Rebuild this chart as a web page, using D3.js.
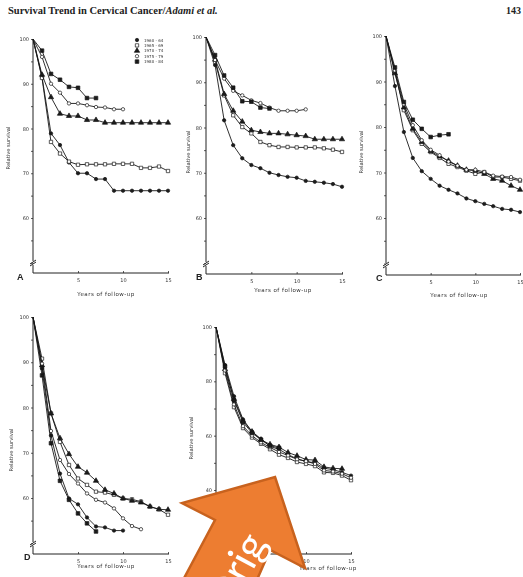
<!DOCTYPE html>
<html>
<head>
<meta charset="utf-8">
<script src="https://cdn.jsdelivr.net/npm/d3@7"></script>
<style>
    body { margin: 0; background: #fff; }
    svg { display: block; }
    .tick text { font-family: "DejaVu Sans", sans-serif; font-size: 5px; fill: #333; }
    .tick line { stroke: #333; stroke-width: 0.8; }
    .axis-line { stroke: #222; stroke-width: 1; fill: none; }
    .axis-title { font-family: "DejaVu Sans", sans-serif; font-size: 5.2px; fill: #333; }
    .panel-letter { font-family: "Liberation Sans", sans-serif; font-size: 9px; font-weight: bold; fill: #222; }
    .legend-text { font-family: "DejaVu Sans", sans-serif; font-size: 4px; fill: #333; }
</style>
</head>
<body>
<script>
'use strict';

// period labels (legend)
var periods = ['1960 - 64', '1965 - 69', '1970 - 74', '1975 - 79', '1980 - 84'];

// relative survival (%) by year of follow-up, starting at year 0
// panel A
var A_1960 = [100, 91.5, 78.9, 76.3, 72.4, 70, 70, 68.7, 68.7, 66.1, 66.1, 66.1, 66.1, 66.1, 66.1, 66.1];
var A_1965 = [100, 91.3, 77, 74.4, 72.6, 71.9, 72, 72, 72, 72.1, 72.1, 72.1, 71.2, 71.2, 71.5, 70.5];
var A_1970 = [100, 92, 87, 83.3, 82.8, 82.8, 81.9, 81.9, 81.3, 81.3, 81.3, 81.3, 81.3, 81.3, 81.3, 81.3];
var A_1975 = [100, 96, 90, 88, 85.6, 85.6, 85.2, 84.8, 84.7, 84.3, 84.3];
var A_1980 = [100, 97.4, 92.2, 90.9, 89.3, 89.1, 86.8, 86.8];
// panel B
var B_1960 = [100, 93.8, 81.6, 76.1, 73.2, 71.7, 71, 70, 69.5, 69.1, 68.9, 68.2, 68, 67.8, 67.5, 66.9];
var B_1965 = [100, 94.5, 87.1, 82.7, 80.1, 78.7, 76.8, 76.1, 75.7, 75.7, 75.6, 75.6, 75.6, 75.4, 75.1, 74.6];
var B_1970 = [100, 95, 87.4, 83.7, 81.3, 79.4, 79, 78.7, 78.7, 78.5, 78.3, 78.1, 77.4, 77.4, 77.4, 77.4];
var B_1975 = [100, 94.9, 90.8, 88.1, 87.1, 86, 85.4, 84.4, 83.7, 83.7, 83.7, 84];
var B_1980 = [100, 96, 91.5, 88.8, 85.8, 85.7, 84.4, 84.2];
// panel C
var C_1960 = [100, 89, 78.9, 73.2, 70.3, 68.6, 67.1, 66.2, 65.4, 64.3, 63.7, 63.1, 62.6, 62, 61.8, 61.3];
var C_1965 = [100, 92.1, 83.7, 79.3, 76.3, 74.5, 73.2, 71.9, 71.2, 70.4, 69.7, 70.1, 69, 69, 68.6, 68.2];
var C_1970 = [100, 91.8, 84.3, 79.6, 76.7, 74.7, 73.5, 72.6, 71.5, 70.6, 70.4, 69.7, 68.6, 68.2, 67.1, 66.2];
var C_1975 = [100, 92.4, 85, 80.4, 77.1, 75, 73.8, 72.4, 71.5, 70.6, 70.6, 70.1, 69.3, 69.1, 69, 68.4];
var C_1980 = [100, 93.1, 85.5, 81.6, 79.6, 77.8, 78.2, 78.4];
// panel D
var D_1960 = [100, 88.6, 73.8, 65.4, 59.9, 58.6, 55.7, 53.7, 53.5, 52.8, 52.8];
var D_1965 = [100, 90.8, 78.7, 72.4, 67.3, 64.3, 62.9, 61.4, 61.2, 60.7, 59.9, 59.7, 59.2, 58.1, 57.5, 56.3];
var D_1970 = [100, 89.3, 78.7, 73.2, 69.7, 66.9, 65.6, 63.8, 61.8, 61, 59.9, 59.4, 59, 58.1, 57.5, 57.4];
var D_1975 = [100, 89.7, 74.8, 68.4, 65.3, 63.2, 61, 59.6, 59, 57.7, 55.5, 53.8, 53.1];
var D_1980 = [100, 87.1, 72.1, 63.8, 59.6, 56.6, 54.4, 52.6];
// panel E
var E_1960 = [100, 86, 74.5, 66, 61.5, 58.8, 56, 55, 53, 51.5, 50.5, 50, 48, 47.5, 46.5, 45.3];
var E_1965 = [100, 83, 70.5, 62.8, 59.3, 57, 55, 53, 51.8, 50.3, 49.6, 48.8, 46.5, 46.3, 45.3, 43.6];
var E_1970 = [100, 84.5, 73.5, 65.5, 61.5, 58.5, 56.8, 55.8, 53.8, 52.6, 51.2, 51, 48.5, 48, 47.8];
var E_1975 = [100, 84, 71.5, 63.5, 60, 57.5, 55.7, 54, 52.7, 51.3, 50.6, 49.6, 47.2, 46.8, 46, 44.5];
var E_1980 = [100, 85.5, 73, 65, 61, 58.5, 56.3, 55.5];

// axis labels
var xTicks = [5, 10, 15];
var yLabelsAD = [100, 90, 80, 70, 60];
var yLabelsE = [100, 80, 60, 40];

var width = 523, height = 577;

// panel layout (pixel positions of the scanned page)
var panels = [
    {letter: 'A', series: [A_1960, A_1965, A_1970, A_1975, A_1980], left: 33, right: 168,
        top: 39, refVal: 60, refPos: 218, bottom: 273, labels: yLabelsAD, minor: 5, low: 50,
        ytitle: [10, 148], xtitle: [106, 296], letterPos: [17, 280], legend: true},
    {letter: 'B', series: [B_1960, B_1965, B_1970, B_1975, B_1980], left: 206, right: 342,
        top: 37, refVal: 60, refPos: 218, bottom: 274, labels: yLabelsAD, minor: 5, low: 50,
        ytitle: [190, 152], xtitle: [283, 292], letterPos: [196, 280]},
    {letter: 'C', series: [C_1960, C_1965, C_1970, C_1975, C_1980], left: 386, right: 520,
        top: 36, refVal: 60, refPos: 218, bottom: 275, labels: yLabelsAD, minor: 5, low: 50,
        ytitle: [363, 152], xtitle: [459, 297], letterPos: [376, 281]},
    {letter: 'D', series: [D_1960, D_1965, D_1970, D_1975, D_1980], left: 33, right: 168,
        top: 317, refVal: 60, refPos: 498, bottom: 554, labels: yLabelsAD, minor: 5, low: 50,
        ytitle: [13, 450], xtitle: [106, 568], letterPos: [24, 560]},
    {letter: 'E', series: [E_1960, E_1965, E_1970, E_1975, E_1980], left: 216, right: 351,
        top: 327, refVal: 40, refPos: 490, bottom: 554, labels: yLabelsE, minor: 10, low: 20,
        ytitle: [193, 438], xtitle: [328, 570], letterPos: null}
];

// marker style for each period
var markers = [
    {type: d3.symbolCircle, size: 9, fill: '#1a1a1a'},
    {type: d3.symbolSquare, size: 11, fill: '#fff'},
    {type: d3.symbolTriangle, size: 12, fill: '#1a1a1a'},
    {type: d3.symbolCircle, size: 9, fill: '#fff'},
    {type: d3.symbolSquare, size: 13, fill: '#1a1a1a'}
];

var svg = d3.select('body').append('svg')
    .attr('width', width)
    .attr('height', height)
    .attr('viewBox', '0 0 ' + width + ' ' + height);

svg.append('defs').append('filter')
    .attr('id', 'scan')
    .append('feGaussianBlur')
    .attr('stdDeviation', 0.3);

// page header
var header = svg.append('text')
    .attr('x', 8)
    .attr('y', 14)
    .style('font-family', '"Liberation Serif", serif')
    .style('font-size', '10.5px')
    .style('font-weight', 'bold')
    .style('fill', '#222');
header.append('tspan').text('Survival Trend in Cervical Cancer/');
header.append('tspan').style('font-style', 'italic').text('Adami et al.');

svg.append('text')
    .attr('x', 521)
    .attr('y', 14)
    .attr('text-anchor', 'end')
    .style('font-family', '"Liberation Serif", serif')
    .style('font-size', '10px')
    .style('font-weight', 'bold')
    .style('fill', '#222')
    .text('143');

var page = svg.append('g').attr('filter', 'url(#scan)');

panels.forEach(function(p) {
    var x = d3.scaleLinear().domain([0, 15]).range([p.left, p.right]);
    var y = d3.scaleLinear().domain([100, p.refVal]).range([p.top, p.refPos]);
    var brk = p.bottom - 10;

    var g = page.append('g');

    // y axis ticks and labels
    var yAxis = d3.axisLeft(y)
        .tickValues(d3.range(p.low, 101, p.minor))
        .tickSize(2)
        .tickPadding(2)
        .tickFormat(function(d) { return p.labels.indexOf(d) >= 0 ? d : ''; });
    g.append('g')
        .attr('transform', 'translate(' + x(0) + ',0)')
        .call(yAxis)
        .call(function(s) { s.select('.domain').remove(); });

    // x axis ticks and labels
    var xAxis = d3.axisBottom(x)
        .tickValues(xTicks)
        .tickSizeInner(-2)
        .tickSizeOuter(0)
        .tickPadding(5);
    g.append('g')
        .attr('transform', 'translate(0,' + p.bottom + ')')
        .call(xAxis)
        .call(function(s) { s.select('.domain').remove(); });

    // axis lines with the break mark
    g.append('path')
        .attr('class', 'axis-line')
        .attr('d', 'M' + x(0) + ',' + y(100) + 'V' + (brk - 2) +
            'M' + x(0) + ',' + (brk + 2) + 'V' + p.bottom + 'H' + (p.right + 1));
    g.append('path')
        .attr('class', 'axis-line')
        .attr('stroke-width', 0.8)
        .attr('d', 'M' + (x(0) - 3) + ',' + (brk + 1) + 'L' + (x(0) + 3) + ',' + (brk - 3) +
            'M' + (x(0) - 3) + ',' + (brk + 3) + 'L' + (x(0) + 3) + ',' + (brk - 1));

    // axis titles
    g.append('text')
        .attr('class', 'axis-title')
        .attr('transform', 'translate(' + p.ytitle[0] + ',' + p.ytitle[1] + ') rotate(-90)')
        .attr('text-anchor', 'middle')
        .text('Relative survival');
    g.append('text')
        .attr('class', 'axis-title')
        .attr('x', p.xtitle[0])
        .attr('y', p.xtitle[1])
        .attr('text-anchor', 'middle')
        .attr('letter-spacing', '0.5px')
        .style('font-size', '5.5px')
        .text('Years of follow-up');

    if (p.letterPos) {
        g.append('text')
            .attr('class', 'panel-letter')
            .attr('x', p.letterPos[0])
            .attr('y', p.letterPos[1])
            .text(p.letter);
    }

    var line = d3.line()
        .x(function(d, i) { return x(i); })
        .y(function(d) { return y(d); });

    p.series.forEach(function(values, k) {
        var m = markers[k];
        g.append('path')
            .datum(values)
            .attr('d', line)
            .attr('fill', 'none')
            .attr('stroke', '#1a1a1a')
            .attr('stroke-width', 0.9);

        g.selectAll('.m' + k)
            .data(values.slice(1))
            .enter().append('path')
            .attr('class', 'm' + k)
            .attr('transform', function(d, i) { return 'translate(' + x(i + 1) + ',' + y(d) + ')'; })
            .attr('d', d3.symbol().type(m.type).size(m.size))
            .attr('fill', m.fill)
            .attr('stroke', '#1a1a1a')
            .attr('stroke-width', 0.7);
    });

    if (p.legend) {
        var lg = g.append('g').attr('transform', 'translate(137,40)');
        periods.forEach(function(label, k) {
            var m = markers[k];
            lg.append('path')
                .attr('transform', 'translate(0,' + (k * 5.4) + ')')
                .attr('d', d3.symbol().type(m.type).size(m.size))
                .attr('fill', m.fill)
                .attr('stroke', '#1a1a1a')
                .attr('stroke-width', 0.7);
            lg.append('text')
                .attr('class', 'legend-text')
                .attr('x', 7)
                .attr('y', k * 5.4 + 1.5)
                .text(label);
        });
    }
});

// orange arrow pasted over the page
var arrow = [[275, 477], [305, 568], [270, 550], [256, 582], [182, 582], [215, 520], [182, 503]];
svg.append('path')
    .attr('d', 'M' + arrow.join('L') + 'Z')
    .attr('fill', '#ed7d31')
    .attr('stroke', '#c8621e')
    .attr('stroke-width', 2.5)
    .attr('stroke-linejoin', 'miter');

svg.append('text')
    .attr('transform', 'translate(268,543) rotate(-61.7)')
    .attr('text-anchor', 'end')
    .style('font-family', 'Lato, sans-serif')
    .style('font-size', '42px')
    .style('fill', '#fff')
    .text('Orig');
</script>
</body>
</html>
